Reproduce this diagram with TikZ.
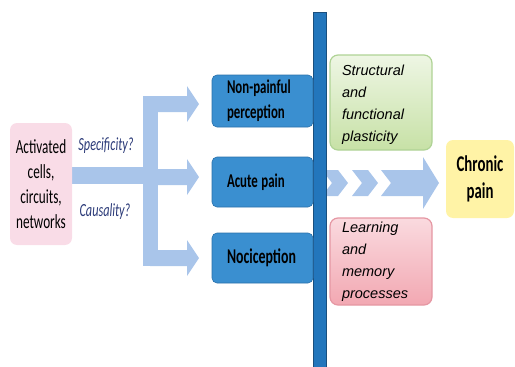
\documentclass[tikz,border=0pt]{standalone}
\usepackage{fontspec}
\setmainfont{Carlito}[FakeStretch=0.66]
\newfontfamily\notefont{Liberation Sans}

\definecolor{flow}{HTML}{A9C5EA}
\definecolor{boxblue}{HTML}{3A8FD0}
\definecolor{boxedge}{HTML}{2A70AA}
\definecolor{barblue}{HTML}{2376BC}
\definecolor{baredge}{HTML}{1A4F7E}
\definecolor{navy}{HTML}{2B3A78}
\definecolor{srcpink}{HTML}{F9DCE7}
\definecolor{greentop}{HTML}{EEF6E4}
\definecolor{greenbot}{HTML}{C7E1A6}
\definecolor{greenedge}{HTML}{AFD395}
\definecolor{pinktop}{HTML}{FADADF}
\definecolor{pinkbot}{HTML}{F2A8B2}
\definecolor{pinkedge}{HTML}{E597A3}
\definecolor{chronic}{HTML}{FFF3A6}

\tikzset{
  source/.style={fill=srcpink, rounded corners=7pt, minimum width=62pt,
    minimum height=122pt, align=center, inner sep=0pt,
    font=\fontsize{20}{25}\selectfont},
  question/.style={text=navy, font=\fontsize{18.5}{20}\selectfont\itshape, inner sep=0pt},
  stage/.style={fill=boxblue, draw=boxedge, line width=0.6pt, rounded corners=5pt,
    minimum width=101pt, text width=71pt, inner xsep=15pt, align=left,
    font=\bfseries\fontsize{19.5}{25}\selectfont},
  process/.style={rounded corners=8pt, line width=1.2pt, minimum width=102pt,
    text width=78pt, inner xsep=12pt, align=left,
    font=\notefont\itshape\fontsize{14.5}{22}\selectfont},
  outcome/.style={fill=chronic, rounded corners=7pt, minimum width=68pt,
    minimum height=78pt, align=center, inner sep=0pt,
    font=\bfseries\fontsize{22.5}{27}\selectfont},
}

\begin{document}
\begin{tikzpicture}[x=1pt,y=-1pt]
\useasboundingbox (0,0) rectangle (515,367);

% flow from the activated elements into the splitter
\fill[flow] (72,167) rectangle (150,184);
\fill[flow] (143,96) rectangle (158,266);
\foreach \y in {104,177,258}{
  \fill[flow] (150,\y-8) -- (187,\y-8) -- (187,\y-18) -- (199,\y)
    -- (187,\y+18) -- (187,\y+8) -- (150,\y+8) -- cycle;
}

% chevrons leading to chronic pain
\fill[flow] (322,170) -- (338,170) -- (348,183) -- (338,196) -- (322,196) -- (332,183) -- cycle;
\fill[flow] (352,170) -- (368,170) -- (378,183) -- (368,196) -- (352,196) -- (362,183) -- cycle;
\fill[flow] (381,170) -- (423,170) -- (423,157) -- (439,183) -- (423,209)
  -- (423,196) -- (381,196) -- (391,183) -- cycle;

% dividing bar
\filldraw[fill=barblue, draw=baredge, line width=1pt] (313,12) rectangle (326,368);

% source
\node[source] (src) at (41,184) {Activated\\cells,\\circuits,\\networks};
\node[question] (spec) at (106,146) {Specificity?};
\node[question] (caus) at (105,212) {Causality?};

% perception stages
\node[stage, minimum height=52pt] (nonp) at (262.5,101) {Non-painful\\perception};
\node[stage, minimum height=50pt] (acute) at (262.5,182) {Acute\hspace{3.5pt}pain};
\node[stage, minimum height=50pt, font=\bfseries\fontsize{21}{25}\selectfont] (noci) at (262.5,258) {Nociception};

% processes
\node[process, top color=greentop, bottom color=greenbot, draw=greenedge,
  minimum height=95pt] (plast) at (381,102.5) {};
\node[process, anchor=center] (plasttext) at (381,105) {Structural\\and\\functional\\plasticity};
\node[process, top color=pinktop, bottom color=pinkbot, draw=pinkedge,
  minimum height=87pt] (learn) at (381,261.5) {Learning\\and\\memory\\processes};

% outcome
\node[outcome] (chron) at (480,179) {Chronic\\pain};
\end{tikzpicture}
\end{document}
